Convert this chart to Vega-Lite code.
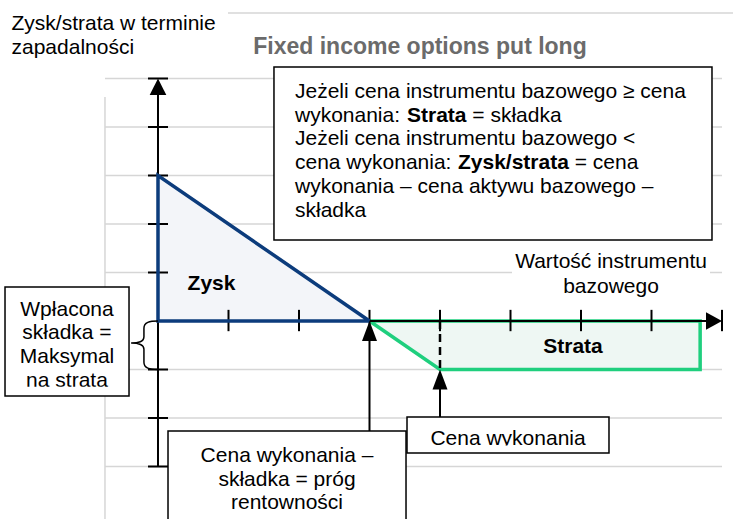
{
  "$schema": "https://vega.github.io/schema/vega-lite/v6.json",
  "width": 733,
  "height": 519,
  "padding": 0,
  "autosize": {"type": "fit", "contains": "padding"},
  "background": "white",
  "config": {"view": {"stroke": null}, "font": "Liberation Sans"},
  "encoding": {
    "x": {"field": "x", "type": "quantitative", "scale": {"domain": [-2.2411, 8.156], "nice": false, "zero": false}, "axis": null},
    "y": {"field": "y", "type": "quantitative", "scale": {"domain": [-4.0825, 6.6186], "nice": false, "zero": false}, "axis": null}
  },
  "layer": [
    {
      "data": {"values": [
        {"y": 5, "x": -0.752, "x2": 8.0}, {"y": 4, "x": -0.752, "x2": 8.0}, {"y": 3, "x": -0.752, "x2": 8.0},
        {"y": 2, "x": -0.752, "x2": 8.0}, {"y": 1, "x": -0.752, "x2": 8.0}, {"y": -1, "x": -0.752, "x2": 8.0},
        {"y": -2, "x": -0.752, "x2": 8.0}, {"y": -3, "x": -0.752, "x2": 8.0}, {"y": 6.351, "x": 0.993, "x2": 8.3}
      ]},
      "mark": {"type": "rule", "color": "#d6d6d6", "strokeWidth": 1.5, "clip": true},
      "encoding": {"x2": {"field": "x2"}}
    },
    {
      "data": {"values": [{"x": -0.752, "y": 4.619, "y2": -4.3}]},
      "mark": {"type": "rule", "color": "#d6d6d6", "strokeWidth": 1.5, "clip": true},
      "encoding": {"y2": {"field": "y2"}}
    },
    {
      "data": {"values": [{"x": 5.021, "x2": 7.83, "y": 1.3, "y2": 0.7}]},
      "mark": {"type": "rect", "fill": "white", "stroke": null},
      "encoding": {"x2": {"field": "x2"}, "y2": {"field": "y2"}}
    },
    {
      "data": {"values": [{"x": 0, "y": 3, "y2": 0}, {"x": 3, "y": 0, "y2": 0}]},
      "mark": {"type": "area", "fill": "#f3f5f9", "opacity": 1},
      "encoding": {"y2": {"field": "y2"}}
    },
    {
      "data": {"values": [{"x": 3, "y": 0, "y2": 0}, {"x": 4, "y": -1, "y2": 0}, {"x": 7.69, "y": -1, "y2": 0}]},
      "mark": {"type": "area", "fill": "#eef7f3", "opacity": 1},
      "encoding": {"y2": {"field": "y2"}}
    },
    {
      "data": {"values": [{"o": 1, "x": 3, "y": 0}, {"o": 2, "x": 4, "y": -1}, {"o": 3, "x": 7.69, "y": -1}, {"o": 4, "x": 7.69, "y": 0}, {"o": 5, "x": 3, "y": 0}]},
      "mark": {"type": "line", "color": "#1fcf7e", "strokeWidth": 3.5, "strokeJoin": "miter"},
      "encoding": {"order": {"field": "o", "type": "quantitative"}}
    },
    {
      "data": {"values": [{"x": 0, "y": 0, "x2": 7.9}]},
      "mark": {"type": "rule", "color": "black", "strokeWidth": 2},
      "encoding": {"x2": {"field": "x2"}}
    },
    {
      "data": {"values": [{"x": 0, "y": -3, "y2": 4.9}]},
      "mark": {"type": "rule", "color": "black", "strokeWidth": 2},
      "encoding": {"y2": {"field": "y2"}}
    },
    {
      "data": {"values": [
        {"x": 1, "y": -0.21, "y2": 0.23}, {"x": 2, "y": -0.21, "y2": 0.23}, {"x": 3, "y": -0.21, "y2": 0.23},
        {"x": 4, "y": -0.21, "y2": 0.23}, {"x": 5, "y": -0.21, "y2": 0.23}, {"x": 6, "y": -0.21, "y2": 0.23},
        {"x": 7, "y": -0.21, "y2": 0.23}, {"x": 8, "y": -0.21, "y2": 0.23}
      ]},
      "mark": {"type": "rule", "color": "black", "strokeWidth": 2},
      "encoding": {"y2": {"field": "y2"}}
    },
    {
      "data": {"values": [
        {"y": 5, "x": -0.142, "x2": 0.142}, {"y": 4, "x": -0.142, "x2": 0.142}, {"y": 3, "x": -0.142, "x2": 0.142},
        {"y": 2, "x": -0.142, "x2": 0.142}, {"y": 1, "x": -0.142, "x2": 0.142}, {"y": -1, "x": -0.142, "x2": 0.142},
        {"y": -2, "x": -0.142, "x2": 0.142}, {"y": -3, "x": -0.142, "x2": 0.142}
      ]},
      "mark": {"type": "rule", "color": "black", "strokeWidth": 2},
      "encoding": {"x2": {"field": "x2"}}
    },
    {
      "data": {"values": [{"o": 1, "x": 3, "y": 0}, {"o": 2, "x": 0, "y": 0}, {"o": 3, "x": 0, "y": 3}, {"o": 4, "x": 3, "y": 0}]},
      "mark": {"type": "line", "color": "#0c3c7c", "strokeWidth": 3.5, "strokeJoin": "miter"},
      "encoding": {"order": {"field": "o", "type": "quantitative"}}
    },
    {
      "data": {"values": [{"x": 4, "y": 0, "y2": -1}]},
      "mark": {"type": "rule", "color": "black", "strokeWidth": 2.5, "strokeDash": [8, 5]},
      "encoding": {"y2": {"field": "y2"}}
    },
    {
      "data": {"values": [{"x": 3, "y": -2.27, "y2": -0.3}, {"x": 4, "y": -1.98, "y2": -1.3}]},
      "mark": {"type": "rule", "color": "black", "strokeWidth": 2},
      "encoding": {"y2": {"field": "y2"}}
    },
    {
      "data": {"values": [{"x": 0, "y": 5}]},
      "mark": {"type": "point", "shape": "M0,0L-1,2L1,2Z", "size": 276, "filled": true, "fill": "black", "stroke": null, "opacity": 1}
    },
    {
      "data": {"values": [{"x": 8, "y": 0}]},
      "mark": {"type": "point", "shape": "M0,0L-2,-1.1L-2,1.1Z", "size": 256, "filled": true, "fill": "black", "stroke": null, "opacity": 1}
    },
    {
      "data": {"values": [{"x": 3, "y": 0}, {"x": 4, "y": -1}]},
      "mark": {"type": "point", "shape": "M0,0L-0.75,2L0.75,2Z", "size": 400, "filled": true, "fill": "black", "stroke": null, "opacity": 1}
    },
    {
      "data": {"values": [{"x": 0, "y": -0.5}]},
      "mark": {"type": "point", "shape": "M0,-1C-0.35,-1 -0.58,-0.95 -0.58,-0.7L-0.58,-0.35C-0.58,-0.15 -0.8,-0.09 -1.11,-0.09C-0.8,-0.09 -0.58,-0.03 -0.58,0.17L-0.58,0.7C-0.58,0.95 -0.35,1 0,1", "size": 2352, "filled": false, "fill": null, "stroke": "black", "strokeWidth": 1.5, "opacity": 1}
    },
    {
      "data": {"values": [
        {"x": 1.645, "x2": 7.858, "y": 5.237, "y2": 1.67},
        {"x": -2.17, "x2": -0.411, "y": 0.701, "y2": -1.546},
        {"x": 0.142, "x2": 3.518, "y": -2.268, "y2": -4.5},
        {"x": 3.532, "x2": 6.397, "y": -1.979, "y2": -2.722}
      ]},
      "mark": {"type": "rect", "fill": "white", "stroke": "black", "strokeWidth": 1.5, "clip": true},
      "encoding": {"x2": {"field": "x2"}, "y2": {"field": "y2"}}
    },
    {
      "data": {"values": [
        {"t": "Zysk/strata w terminie", "x": -2.078, "y": 6.01},
        {"t": "zapadalności", "x": -2.078, "y": 5.515},
        {"t": "Jeżeli cena instrumentu bazowego ≥ cena", "x": 1.943, "y": 4.604},
        {"t": "wykonania:", "x": 1.943, "y": 4.113},
        {"t": "= składka", "x": 4.458, "y": 4.113},
        {"t": "Jeżeli cena instrumentu bazowego <", "x": 1.943, "y": 3.623},
        {"t": "cena wykonania:", "x": 1.943, "y": 3.132},
        {"t": "= cena", "x": 5.911, "y": 3.132},
        {"t": "wykonania – cena aktywu bazowego –", "x": 1.943, "y": 2.641},
        {"t": "składka", "x": 1.943, "y": 2.151}
      ]},
      "mark": {"type": "text", "align": "left", "baseline": "alphabetic", "fontSize": 21, "color": "black", "font": "Liberation Sans"},
      "encoding": {"text": {"field": "t"}}
    },
    {
      "data": {"values": [
        {"t": "Strata", "x": 3.532, "y": 4.113},
        {"t": "Zysk/strata", "x": 4.255, "y": 3.132}
      ]},
      "mark": {"type": "text", "align": "left", "baseline": "alphabetic", "fontSize": 21, "fontWeight": "bold", "color": "black", "font": "Liberation Sans"},
      "encoding": {"text": {"field": "t"}}
    },
    {
      "data": {"values": [
        {"t": "Zysk", "x": 0.759, "y": 0.639},
        {"t": "Strata", "x": 5.887, "y": -0.666}
      ]},
      "mark": {"type": "text", "align": "center", "baseline": "alphabetic", "fontSize": 21, "fontWeight": "bold", "color": "black", "font": "Liberation Sans"},
      "encoding": {"text": {"field": "t"}}
    },
    {
      "data": {"values": [
        {"t": "Wartość instrumentu", "x": 6.426, "y": 1.087},
        {"t": "bazowego", "x": 6.426, "y": 0.571},
        {"t": "Wpłacona", "x": -1.291, "y": 0.113},
        {"t": "składka =", "x": -1.291, "y": -0.381},
        {"t": "Maksymal", "x": -1.291, "y": -0.876},
        {"t": "na strata", "x": -1.291, "y": -1.371},
        {"t": "Cena wykonania", "x": 4.965, "y": -2.557},
        {"t": "Cena wykonania –", "x": 1.83, "y": -2.901},
        {"t": "składka = próg", "x": 1.83, "y": -3.402},
        {"t": "rentowności", "x": 1.83, "y": -3.876}
      ]},
      "mark": {"type": "text", "align": "center", "baseline": "alphabetic", "fontSize": 21, "color": "black", "font": "Liberation Sans"},
      "encoding": {"text": {"field": "t"}}
    },
    {
      "data": {"values": [
        {"x": -2.156, "x2": -0.426, "y": -1.357, "y2": -1.526},
        {"x": 3.546, "x2": 6.383, "y": -2.567, "y2": -2.701}
      ]},
      "mark": {"type": "rect", "fill": "white", "stroke": null},
      "encoding": {"x2": {"field": "x2"}, "y2": {"field": "y2"}}
    },
    {
      "data": {"values": [{"t": "Fixed income options put long", "x": 3.716, "y": 5.495}]},
      "mark": {"type": "text", "align": "center", "baseline": "alphabetic", "fontSize": 23, "fontWeight": "bold", "color": "#6b6b6b", "font": "Liberation Sans"},
      "encoding": {"text": {"field": "t"}}
    }
  ]
}
